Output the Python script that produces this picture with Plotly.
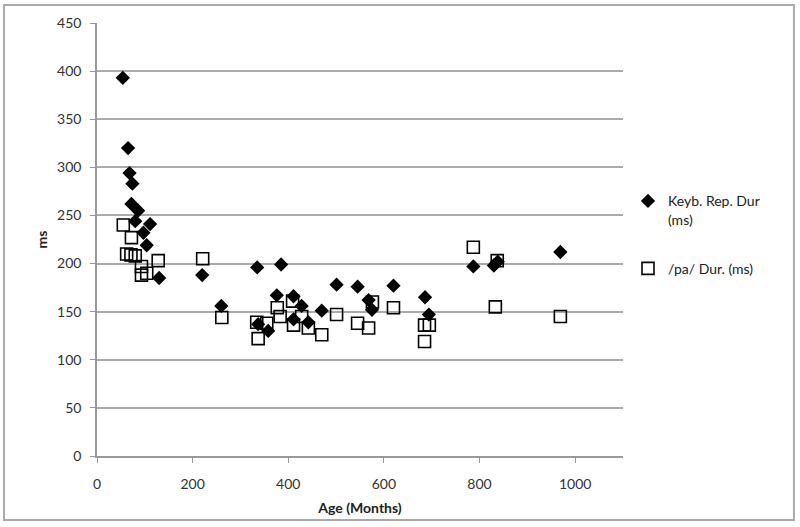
import plotly.graph_objects as go

# Keyboard repetition duration (ms) vs age (months)
key_age = [54, 65, 68, 74, 72, 86, 80, 111, 97, 104, 130, 220, 260, 335, 337, 358, 376, 385,
           411, 411, 428, 442, 470, 501, 545, 568, 575, 620, 686, 694, 787, 830, 838, 969]
key_dur = [393, 320, 294, 283, 262, 255, 244, 241, 232, 219, 185, 188, 156, 196, 137, 130, 167, 199,
           166, 142, 156, 139, 151, 178, 176, 162, 152, 177, 165, 147, 197, 198, 202, 212]

# /pa/ duration (ms) vs age (months)
pa_age = [55, 72, 62, 71, 80, 93, 104, 93, 128, 221, 261, 334, 337, 355, 377, 383, 409, 411,
          428, 442, 470, 501, 545, 568, 576, 620, 685, 695, 685, 787, 837, 833, 969]
pa_dur = [240, 227, 210, 209, 208, 197, 190, 188, 203, 205, 144, 139, 122, 138, 154, 145, 161, 136,
          145, 133, 126, 147, 138, 133, 160, 154, 136, 136, 119, 217, 203, 155, 145]

x_ticks = [0, 200, 400, 600, 800, 1000]
y_ticks = [0, 50, 100, 150, 200, 250, 300, 350, 400, 450]

FONT = "Lato, Liberation Sans, sans-serif"
TXT = "#333333"

fig = go.Figure()
fig.add_trace(go.Scatter(
    x=key_age, y=key_dur, mode="markers", name="Keyb. Rep. Dur<br>(ms)",
    legendgroup="a",
    marker=dict(symbol="diamond", size=11, color="black"),
))
fig.add_trace(go.Scatter(
    x=pa_age, y=pa_dur, mode="markers", name="/pa/ Dur. (ms)",
    legendgroup="b",
    marker=dict(symbol="square-open", size=12, color="black", line=dict(width=1.6, color="black")),
))

fig.update_layout(
    width=800, height=527,
    margin=dict(l=97, r=177, t=23, b=71),
    plot_bgcolor="white", paper_bgcolor="white",
    font=dict(family=FONT, size=14, color=TXT),
    showlegend=True,
    legend=dict(
        x=1.0095, y=0.625, xanchor="left", yanchor="top",
        font=dict(family=FONT, size=14, color="#222222"),
        valign="top", traceorder="grouped", tracegroupgap=28, itemwidth=30,
        bgcolor="rgba(0,0,0,0)",
    ),
    xaxis=dict(
        range=[0, 1100], tickmode="array", tickvals=x_ticks,
        showgrid=False, zeroline=False,
        showline=True, linecolor="#999999", linewidth=1.5,
        ticks="outside", ticklen=5, tickcolor="#999999",
        ticklabelstandoff=9,
        title=dict(text="<b>Age (Months)</b>", font=dict(family=FONT, size=14, color="#222222"), standoff=13),
        tickfont=dict(family=FONT, size=14, color=TXT),
    ),
    yaxis=dict(
        range=[0, 450], tickmode="array", tickvals=y_ticks,
        showgrid=True, gridcolor="#aaaaaa", gridwidth=1.5,
        zeroline=False,
        showline=True, linecolor="#999999", linewidth=1.5,
        ticks="outside", ticklen=5, tickcolor="#999999",
        ticklabelstandoff=6,
        title=dict(text="<b>ms</b>", font=dict(family=FONT, size=14, color="#222222"), standoff=6),
        tickfont=dict(family=FONT, size=14, color=TXT),
    ),
    shapes=[dict(
        type="rect", xref="paper", yref="paper",
        x0=-0.1768, x1=1.325, y0=-0.1478, y1=1.0416,
        line=dict(color="#aaaaaa", width=2), fillcolor="rgba(0,0,0,0)", layer="below",
    )],
)

fig.write_html("out.html", config={"displayModeBar": False},
               post_script="document.body.style.margin='0';")
